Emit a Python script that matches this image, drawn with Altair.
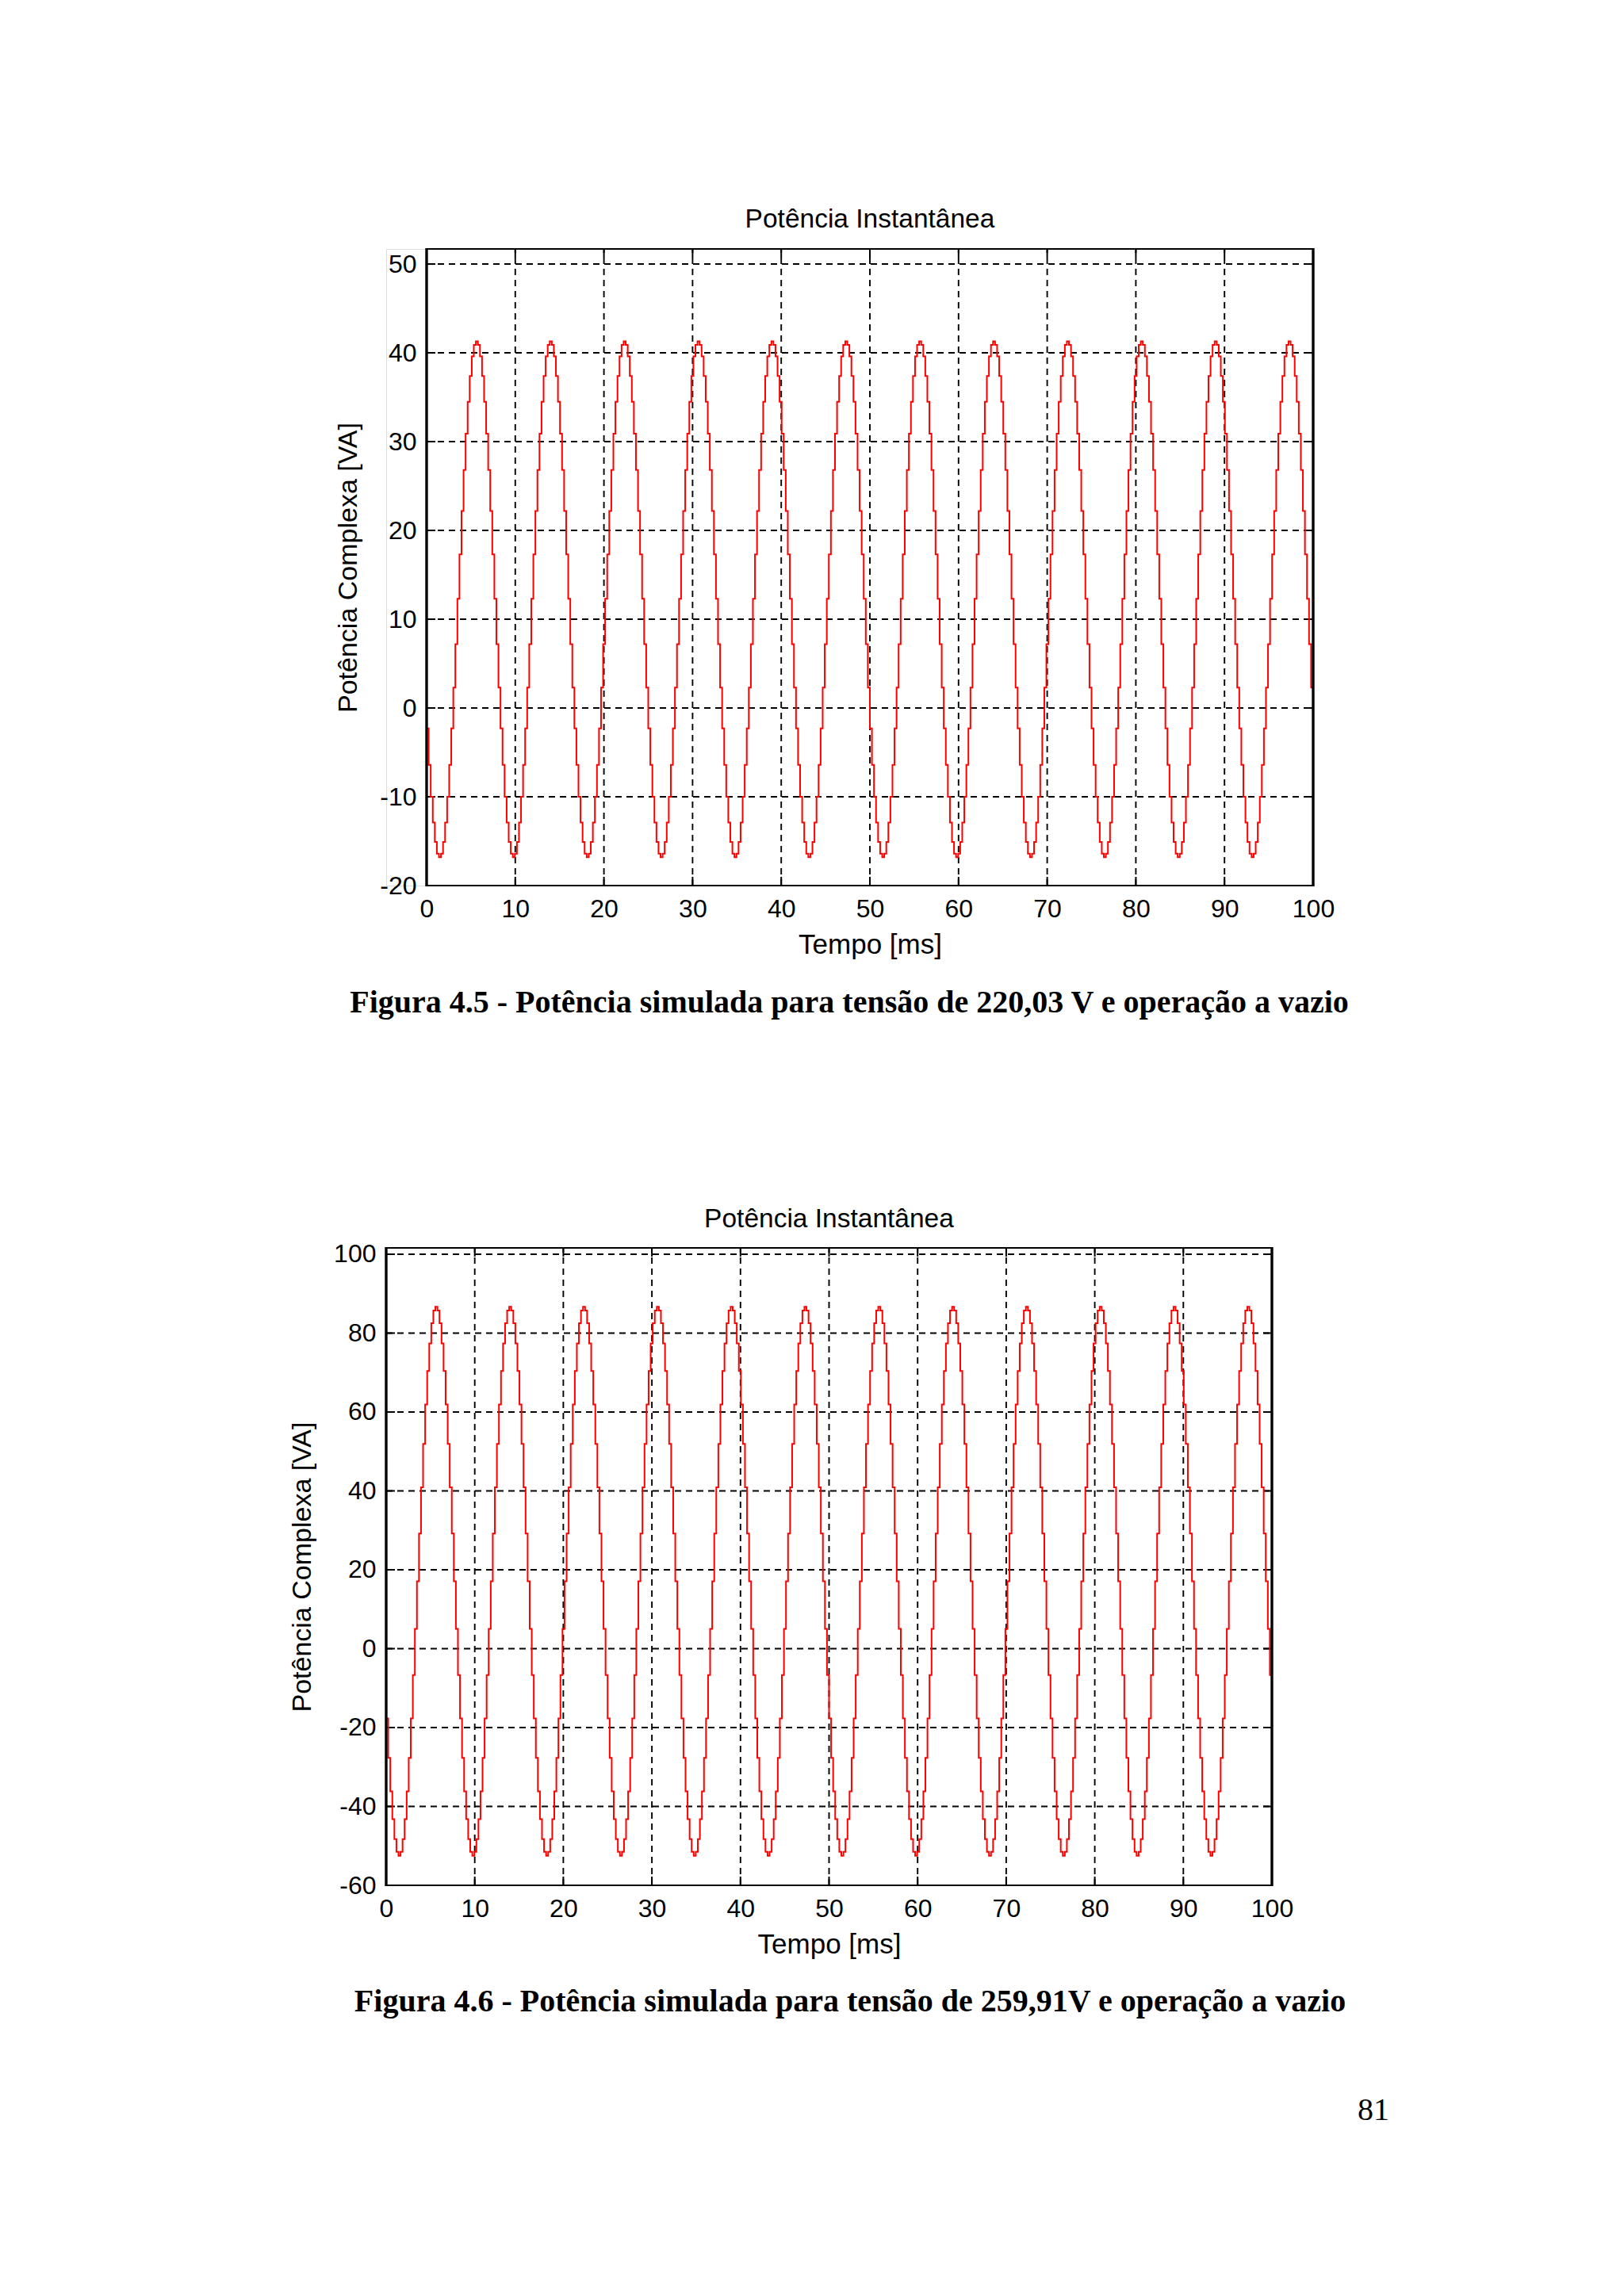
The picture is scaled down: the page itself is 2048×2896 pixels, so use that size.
import altair as alt
import pandas as pd

FONT = "Liberation Sans"
SERIF = "Liberation Serif"

# ---- data ----
x_ticks = [0, 10, 20, 30, 40, 50, 60, 70, 80, 90, 100]
y_ticks_45 = [-20, -10, 0, 10, 20, 30, 40, 50]
y_ticks_46 = [-60, -40, -20, 0, 20, 40, 60, 80, 100]
y_domain_45 = [-20, 51.7]
y_domain_46 = [-60, 101.6]

cycle_fig45 = [-2.3, -6.4, -10.0, -12.9, -15.1, -16.4, -16.8, -16.4, -15.1, -12.9, -10.0, -6.4,
               -2.3, 2.3, 7.2, 12.3, 17.3, 22.2, 26.8, 30.9, 34.5, 37.4, 39.6, 40.9,
               41.3, 40.9, 39.6, 37.4, 34.5, 30.9, 26.8, 22.2, 17.3, 12.3, 7.2, 2.3]
cycle_fig46 = [-17.7, -27.7, -36.2, -43.2, -48.3, -51.5, -52.5, -51.5, -48.3, -43.2, -36.2, -27.7,
               -17.7, -6.7, 5.0, 17.1, 29.2, 40.9, 51.9, 61.9, 70.4, 77.4, 82.5, 85.7,
               86.7, 85.7, 82.5, 77.4, 70.4, 61.9, 51.9, 40.9, 29.2, 17.1, 5.0, -6.7]
n_periods = 12
t_end = 100.0
start_value = 0.0
end_value = 0.0

chart_title = "Potência Instantânea"
x_title = "Tempo [ms]"
y_title = "Potência Complexa [VA]"
captions = ["Figura 4.5 - Potência simulada para tensão de 220,03 V e operação a vazio",
            "Figura 4.6 - Potência simulada para tensão de 259,91V e operação a vazio"]
page_number = ["81"]


def series(cycle):
    n = len(cycle)
    dt = t_end / (n_periods * n)
    t = [0.0]
    v = [start_value]
    for p in range(n_periods):
        for k, val in enumerate(cycle):
            t.append((p * n + k) * dt)
            v.append(val)
    t.append(t_end)
    v.append(end_value)
    return pd.DataFrame({"t": t, "p": v})


LABEL_EXPR = "replace(datum.label, '\u2212', '-')"


def panel(df, ydom, yticks, shift, pw, ph, caption, cap_xy, title_offset, extra=None):
    xs = alt.Scale(domain=[0, 100], range=[shift, shift + pw], nice=False, zero=False)
    ys = alt.Scale(domain=ydom, nice=False, zero=False)
    x_axis = alt.Axis(values=x_ticks, title=x_title, grid=False, ticks=False, tickSize=0, domain=False,
                      labelFont=FONT, labelFontSize=32, labelColor="black", labelPadding=14,
                      labelFlush=False, labelOverlap=False, labelExpr=LABEL_EXPR,
                      titleFont=FONT, titleFontSize=35, titleFontWeight="normal", titleColor="black",
                      titlePadding=12)
    y_axis = alt.Axis(values=yticks, title=y_title, grid=False, ticks=False, tickSize=0, domain=False,
                      offset=-shift, labelFont=FONT, labelFontSize=32, labelColor="black", labelPadding=13,
                      labelFlush=False, labelOverlap=False, labelExpr=LABEL_EXPR,
                      titleFont=FONT, titleFontSize=34, titleFontWeight="normal", titleColor="black",
                      titlePadding=22)

    line = alt.Chart(df).mark_line(color="#ff0000", strokeWidth=2, interpolate="step-after").encode(
        x=alt.X("t:Q", scale=xs, axis=x_axis),
        y=alt.Y("p:Q", scale=ys, axis=y_axis),
    )

    xg = pd.DataFrame({"t": x_ticks})
    yg = pd.DataFrame({"p": yticks})
    grid_style = dict(color="black", strokeWidth=1.9, strokeDash=[8, 6])
    vgrid = alt.Chart(xg).mark_rule(**grid_style).encode(
        x=alt.X("t:Q", scale=xs, axis=x_axis),
        y=alt.YDatum(ydom[0], scale=ys, axis=y_axis), y2=alt.Y2Datum(ydom[1]))
    hgrid = alt.Chart(yg).mark_rule(**grid_style).encode(
        y=alt.Y("p:Q", scale=ys, axis=y_axis),
        x=alt.XDatum(0, scale=xs, axis=x_axis), x2=alt.X2Datum(100))

    tick_style = dict(color="black", strokeWidth=2)
    tb = alt.Chart(xg).mark_rule(y2Offset=-11, **tick_style).encode(
        x=alt.X("t:Q", scale=xs, axis=x_axis),
        y=alt.YDatum(ydom[0], scale=ys, axis=y_axis), y2=alt.Y2Datum(ydom[0]))
    tt = alt.Chart(xg).mark_rule(y2Offset=11, **tick_style).encode(
        x=alt.X("t:Q", scale=xs, axis=x_axis),
        y=alt.YDatum(ydom[1], scale=ys, axis=y_axis), y2=alt.Y2Datum(ydom[1]))
    tl = alt.Chart(yg).mark_rule(x2Offset=11, **tick_style).encode(
        y=alt.Y("p:Q", scale=ys, axis=y_axis),
        x=alt.XDatum(0, scale=xs, axis=x_axis), x2=alt.X2Datum(0))
    tr = alt.Chart(yg).mark_rule(x2Offset=-11, **tick_style).encode(
        y=alt.Y("p:Q", scale=ys, axis=y_axis),
        x=alt.XDatum(100, scale=xs, axis=x_axis), x2=alt.X2Datum(100))

    box = alt.Chart(xg).mark_rect(fill="transparent", stroke="black", strokeWidth=2.2).encode(
        x=alt.XDatum(0, scale=xs, axis=x_axis), x2=alt.X2Datum(100),
        y=alt.YDatum(ydom[0], scale=ys, axis=y_axis), y2=alt.Y2Datum(ydom[1]))

    cap = alt.Chart(pd.DataFrame({"label": [caption]})).mark_text(
        font=SERIF, fontWeight="bold", fontSize=40, align="center", baseline="middle", color="black"
    ).encode(text="label:N", x=alt.value(cap_xy[0]), y=alt.value(cap_xy[1]))

    layers = [vgrid, hgrid, tb, tt, tl, tr, line, box, cap]
    if extra is not None:
        layers.append(extra)

    return alt.layer(*layers).properties(
        width=shift + pw, height=ph,
        title=alt.TitleParams(text=chart_title, font=FONT, fontSize=33.5, fontWeight="normal",
                              color="black", anchor="middle", offset=title_offset, dx=shift / 2),
    )


page = alt.Chart(pd.DataFrame({"label": page_number})).mark_text(
    font=SERIF, fontSize=40, align="center", baseline="middle", color="black"
).encode(text="label:N", x=alt.value(1245), y=alt.value(1088))

c1 = panel(series(cycle_fig45), y_domain_45, y_ticks_45, 51, 1118, 803, captions[0], (584, 951), 18)
c2 = panel(series(cycle_fig46), y_domain_46, y_ticks_46, 0, 1117, 804, captions[1], (585, 951), 10,
           extra=page)

chart = alt.vconcat(c1, c2, spacing=234).properties(
    padding={"left": 356, "top": 251, "right": 10, "bottom": 10},
).configure_view(stroke="transparent").configure(background="white")

chart.save("out.html", embed_options={"renderer": "svg", "actions": False})
